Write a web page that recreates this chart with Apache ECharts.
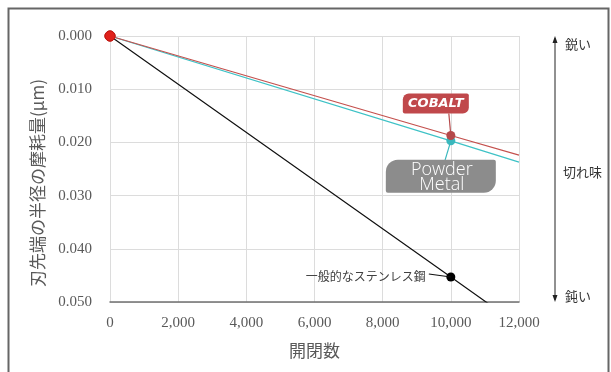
<!DOCTYPE html>
<html>
<head>
<meta charset="utf-8">
<script src="https://cdn.jsdelivr.net/npm/echarts@6/dist/echarts.min.js"></script>
<style>
  html, body { margin: 0; padding: 0; background: #fff; }
  #chart { width: 611px; height: 372px; }
</style>
</head>
<body>
<div id="chart"></div>
<script>
  // 開閉数
  var cycles = [0, 10000, 12000];
  // 摩耗量 (μm)
  var cobalt = [0, 0.0187, 0.0224];
  var powderMetal = [0, 0.0197, 0.0237];
  var stainless = [0, 0.0453, 0.0544];
  var seriesNames = ['COBALT', 'Powder Metal', '一般的なステンレス鋼'];
  var yTicks = ['0.000', '0.010', '0.020', '0.030', '0.040', '0.050'];
  var sideLabels = ['鋭い', '切れ味', '鈍い'];

  var SERIF = '"Liberation Serif", "DejaVu Serif", serif';
  var JP = '"Noto Sans CJK JP", sans-serif';

  function pairs(vals) {
    return cycles.map(function (c, i) { return [c, vals[i]]; });
  }

  function makeSeries(name, vals, lineColor, markColor, z) {
    var d = pairs(vals).map(function (p, i) {
      var item = { value: p };
      if (i === 0) {
        item.symbolSize = 10;
        item.itemStyle = { color: '#e0211b', borderColor: '#c21a15', borderWidth: 1 };
      } else if (i === 1) {
        item.symbolSize = 9;
        item.itemStyle = { color: markColor };
      } else {
        item.symbol = 'none';
        item.symbolSize = 0;
      }
      return item;
    });
    return {
      name: name,
      type: 'line',
      data: d,
      z: z,
      clip: true,
      symbol: 'circle',
      showAllSymbol: true,
      lineStyle: { color: lineColor, width: 1.2 },
      itemStyle: { color: markColor },
      emphasis: { disabled: true },
      animation: false
    };
  }

  var myChart = echarts.init(document.getElementById('chart'));

  var option = {
    backgroundColor: '#fff',
    animation: false,
    grid: { left: 110, right: 92, top: 36, bottom: 70 },
    xAxis: {
      type: 'value',
      min: 0,
      max: 12000,
      interval: 2000,
      name: '開閉数',
      nameLocation: 'middle',
      nameGap: 40,
      nameTextStyle: { fontFamily: JP, fontSize: 17, color: '#595959' },
      axisLine: { onZero: false, lineStyle: { color: '#707070', width: 1.5 } },
      axisTick: { show: false },
      axisLabel: {
        margin: 14,
        fontFamily: SERIF,
        fontSize: 15,
        color: '#595959',
        formatter: function (v) { return v.toLocaleString('en-US'); }
      },
      splitLine: { show: true, lineStyle: { color: '#dcdcdc', width: 1 } }
    },
    yAxis: {
      type: 'value',
      inverse: true,
      min: 0,
      max: 0.05,
      interval: 0.01,
      name: '刃先端の半径の摩耗量(μm)',
      nameLocation: 'middle',
      nameGap: 64,
      nameRotate: 90,
      nameTextStyle: { fontFamily: JP, fontSize: 17, color: '#595959', padding: [0, 28, 0, 0] },
      axisLine: { show: false },
      axisTick: { show: false },
      axisLabel: {
        margin: 18,
        fontFamily: SERIF,
        fontSize: 15,
        color: '#595959',
        formatter: function (v) { return yTicks[Math.round(v / 0.01)]; }
      },
      splitLine: { show: true, lineStyle: { color: '#dcdcdc', width: 1 } }
    },
    series: [
      makeSeries(seriesNames[2], stainless, '#111111', '#000000', 2),
      makeSeries(seriesNames[1], powderMetal, '#3ec2c6', '#3ab8bd', 3),
      makeSeries(seriesNames[0], cobalt, '#c4504d', '#b5494a', 4)
    ]
  };

  myChart.setOption(option);

  // 注釈（データ点の位置から配置）
  var pC = myChart.convertToPixel({ gridIndex: 0 }, [cycles[1], cobalt[1]]);
  var pP = myChart.convertToPixel({ gridIndex: 0 }, [cycles[1], powderMetal[1]]);
  var pS = myChart.convertToPixel({ gridIndex: 0 }, [cycles[1], stainless[1]]);
  var yTop = myChart.convertToPixel({ gridIndex: 0 }, [0, 0])[1];
  var yBot = myChart.convertToPixel({ gridIndex: 0 }, [0, 0.05])[1];
  var ax = 555;

  var g = [
    // 外枠
    { type: 'rect', shape: { x: 8.5, y: 8.5, width: 600, height: 380 }, style: { fill: 'none', stroke: '#666', lineWidth: 2 }, z: 0 },
    // COBALT
    { type: 'line', shape: { x1: pC[0] - 2, y1: pC[1] - 22, x2: pC[0], y2: pC[1] }, style: { stroke: '#b5494a', lineWidth: 1.2 }, z: 10 },
    { type: 'rect', shape: { x: pC[0] - 48, y: pC[1] - 42, width: 66, height: 20, r: [6, 2, 6, 2] }, style: { fill: '#c0484b' }, z: 11 },
    { type: 'text', x: pC[0] - 15, y: pC[1] - 32, style: { text: 'COBALT', fill: '#fff', font: 'italic bold 13px "DejaVu Sans", sans-serif', align: 'center', verticalAlign: 'middle' }, z: 12 },
    // Powder Metal
    { type: 'line', shape: { x1: pP[0] - 6, y1: pP[1] + 20, x2: pP[0], y2: pP[1] }, style: { stroke: '#3ab8bd', lineWidth: 1.2 }, z: 10 },
    { type: 'rect', shape: { x: pP[0] - 65, y: pP[1] + 19, width: 110, height: 33, r: [12, 2, 12, 2] }, style: { fill: '#8c8c8c' }, z: 11 },
    { type: 'text', x: pP[0] - 9, y: pP[1] + 37, style: { text: 'Powder\nMetal', fill: '#fff', font: '300 18px "Open Sans", Lato, sans-serif', lineHeight: 15, align: 'center', verticalAlign: 'middle' }, z: 12 },
    // ステンレス
    { type: 'line', shape: { x1: pS[0] - 22, y1: pS[1] - 3, x2: pS[0], y2: pS[1] }, style: { stroke: '#111', lineWidth: 1.2 }, z: 10 },
    { type: 'text', x: pS[0] - 25, y: pS[1] - 1, style: { text: seriesNames[2], fill: '#404040', font: '12px ' + JP, align: 'right', verticalAlign: 'middle' }, z: 12 },
    // 切れ味の矢印
    { type: 'line', shape: { x1: ax, y1: yTop + 2, x2: ax, y2: yBot - 2 }, style: { stroke: '#222', lineWidth: 1 }, z: 10 },
    { type: 'polygon', shape: { points: [[ax, yTop], [ax - 2.5, yTop + 7], [ax + 2.5, yTop + 7]] }, style: { fill: '#222' }, z: 10 },
    { type: 'polygon', shape: { points: [[ax, yBot], [ax - 2.5, yBot - 7], [ax + 2.5, yBot - 7]] }, style: { fill: '#222' }, z: 10 },
    { type: 'text', x: 565, y: yTop + 8, style: { text: sideLabels[0], fill: '#333', font: '13px ' + JP, verticalAlign: 'middle' } },
    { type: 'text', x: 563, y: (yTop + yBot) / 2 + 3, style: { text: sideLabels[1], fill: '#333', font: '13px ' + JP, verticalAlign: 'middle' } },
    { type: 'text', x: 565, y: yBot - 6, style: { text: sideLabels[2], fill: '#333', font: '13px ' + JP, verticalAlign: 'middle' } }
  ];

  myChart.setOption({ graphic: g });
</script>
</body>
</html>
